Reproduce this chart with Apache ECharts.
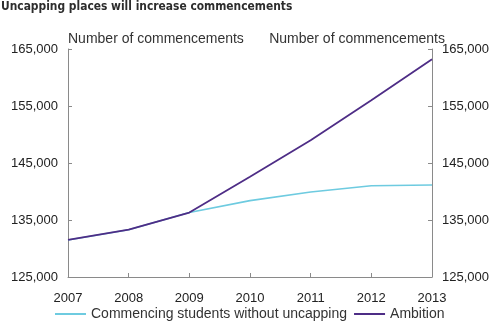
<!DOCTYPE html>
<html>
<head>
<meta charset="utf-8">
<script src="https://cdn.jsdelivr.net/npm/echarts@6/dist/echarts.min.js"></script>
<style>html,body{margin:0;padding:0;background:#fff}#c{width:498px;height:324px}</style>
</head>
<body>
<div id="c"></div>
<script>
var years = ['2007','2008','2009','2010','2011','2012','2013'];
var withoutUncapping = [131500, 133300, 136300, 138400, 139900, 141000, 141150];
var ambition = [131500, 133300, 136300, 142600, 149000, 156000, 163200];
var yTicks = [125000, 135000, 145000, 155000, 165000];
var titleText = 'Uncapping places will increase commencements';
var axisName = 'Number of commencements';
var seriesNames = ['Commencing students without uncapping', 'Ambition'];

var chart = echarts.init(document.getElementById('c'));
var fmt = function (v) { return v.toLocaleString('en-US'); };
var yAxisBase = function (pos) {
  return {
    type: 'value', position: pos,
    min: yTicks[0], max: yTicks[yTicks.length - 1], interval: 10000,
    name: axisName, nameLocation: 'end', nameGap: 3, nameMoveOverlap: false,
    nameTextStyle: { fontFamily: 'Liberation Sans', fontSize: 14, color: '#333',
      align: pos === 'left' ? 'left' : 'right',
      padding: pos === 'left' ? [0, 0, 0, 0] : [0, -13, 0, 0] },
    axisLine: { show: true, lineStyle: { color: '#8a8a8a', width: 1 } },
    axisTick: { show: true, inside: true, length: 4, lineStyle: { color: '#8a8a8a' } },
    splitLine: { show: false },
    axisLabel: { fontFamily: 'Liberation Sans', fontSize: 13, color: '#222', margin: 10, formatter: fmt }
  };
};
chart.setOption({
  animation: false,
  title: { text: titleText, left: 1, top: 1, padding: 0,
    textStyle: { fontFamily: 'DejaVu Sans Condensed', fontWeight: 'bold', fontSize: 11.9, color: '#2d2d2d' } },
  grid: { left: 68, right: 66, top: 49, bottom: 47 },
  legend: {
    left: 50, top: 302, itemWidth: 31, itemHeight: 2, itemGap: 7, icon: 'rect',
    textStyle: { fontFamily: 'Liberation Sans', fontSize: 14, color: '#333' },
    data: seriesNames
  },
  xAxis: {
    type: 'category', data: years, boundaryGap: false,
    axisLine: { lineStyle: { color: '#8a8a8a' } },
    axisTick: { inside: true, length: 4, lineStyle: { color: '#8a8a8a' } },
    axisLabel: { fontFamily: 'Liberation Sans', fontSize: 13, color: '#222', margin: 15 }
  },
  yAxis: [yAxisBase('left'), yAxisBase('right')],
  series: [
    { name: seriesNames[0], type: 'line', data: withoutUncapping, showSymbol: false, symbol: 'none',
      lineStyle: { color: '#6ecbe0', width: 1.6 }, itemStyle: { color: '#6ecbe0' } },
    { name: seriesNames[1], type: 'line', data: ambition, showSymbol: false, symbol: 'none',
      lineStyle: { color: '#4e2d86', width: 1.8 }, itemStyle: { color: '#4e2d86' } }
  ]
});
</script>
</body>
</html>
